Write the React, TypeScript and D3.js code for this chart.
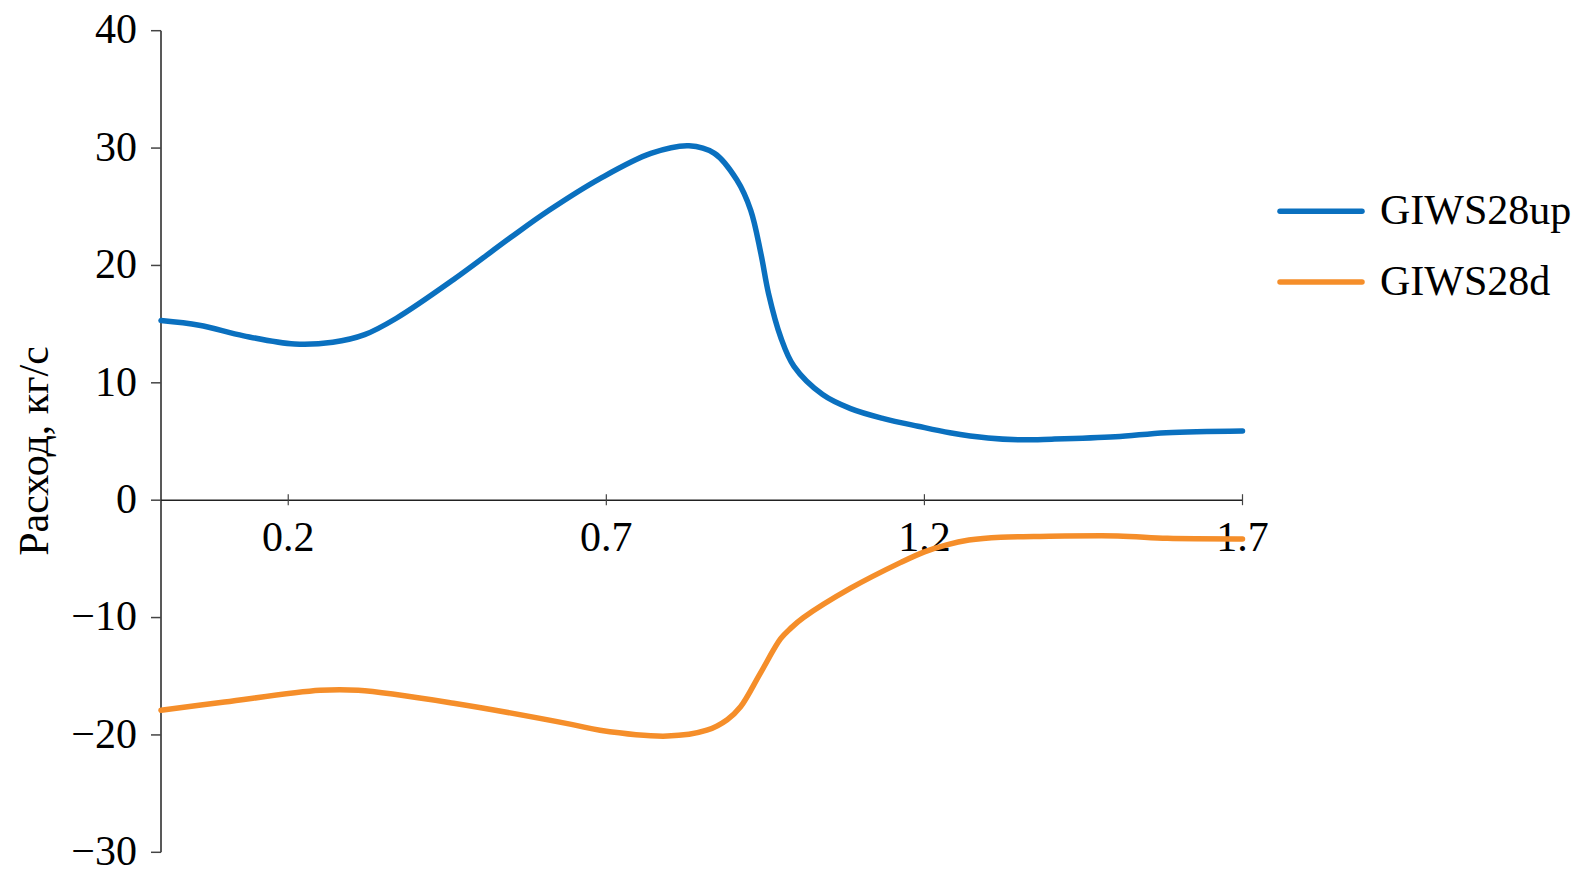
import React from "react";
import * as d3 from "d3";

const upX = [0, 0.06, 0.13, 0.21, 0.27, 0.32, 0.37, 0.46, 0.55, 0.61, 0.69, 0.77, 0.83, 0.87, 0.905, 0.927, 0.943, 0.955, 0.974, 0.995, 1.04, 1.084, 1.136, 1.19, 1.24, 1.30, 1.35, 1.40, 1.50, 1.58, 1.70];
const upY = [15.3, 14.9, 14.0, 13.3, 13.45, 14.1, 15.5, 18.8, 22.4, 24.7, 27.4, 29.55, 30.2, 29.55, 27.3, 24.7, 21.0, 17.6, 13.9, 11.4, 9.0, 7.8, 6.95, 6.3, 5.75, 5.3, 5.15, 5.2, 5.4, 5.75, 5.9];

const dX = [0, 0.10, 0.25, 0.31, 0.46, 0.645, 0.69, 0.796, 0.858, 0.89, 0.911, 0.942, 0.974, 0.99, 1.01, 1.084, 1.163, 1.2, 1.235, 1.27, 1.32, 1.372, 1.504, 1.582, 1.70];
const dY = [-17.9, -17.2, -16.2, -16.2, -17.3, -19.1, -19.6, -20.1, -19.6, -18.7, -17.6, -14.75, -11.8, -10.9, -10.0, -7.5, -5.3, -4.4, -3.8, -3.4, -3.15, -3.1, -3.05, -3.25, -3.3];

const xTicks = [0.2, 0.7, 1.2, 1.7];
const yTicks = [40, 30, 20, 10, 0, -10, -20, -30];
const seriesNames = ["GIWS28up", "GIWS28d"];
const seriesColors = ["#0A70BF", "#F58E2A"];
const yTitle = "Расход, кг/с";

const W = 1594;
const H = 879;
const FONT = "'Liberation Serif', 'Times New Roman', serif";

export default function App() {
  const x = d3.scaleLinear().domain([0, 1.7]).range([161, 1242.5]);
  const y = d3.scaleLinear().domain([-30, 40]).range([852.3, 30.7]);

  const line = d3
    .line<[number, number]>()
    .x((d) => x(d[0]))
    .y((d) => y(d[1]))
    .curve(d3.curveCatmullRom.alpha(0.5));

  const upData: [number, number][] = upX.map((v, i) => [v, upY[i]]);
  const dData: [number, number][] = dX.map((v, i) => [v, dY[i]]);
  const series = [upData, dData];

  const fmtY = (v: number) => (v < 0 ? "\u2212" + Math.abs(v) : String(v));

  return (
    <div style={{ position: "absolute", left: 0, top: 0 }}>
      <svg width={W} height={H} style={{ display: "block", background: "#fff" }}>
        <rect x={0} y={0} width={W} height={H} fill="#fff" />
        {/* y axis */}
        <line x1={x(0)} x2={x(0)} y1={y(40)} y2={y(-30)} stroke="#222" strokeWidth={1.5} />
        {yTicks.map((t) => (
          <g key={"yt" + t}>
            <line x1={x(0) - 10} x2={x(0)} y1={y(t)} y2={y(t)} stroke="#444" strokeWidth={1.5} />
            <text
              x={137}
              y={y(t) + 12.7}
              textAnchor="end"
              fontFamily={FONT}
              fontSize={42}
              fill="#000"
            >
              {fmtY(t)}
            </text>
          </g>
        ))}
        {/* x axis */}
        <line x1={x(0)} x2={x(1.7)} y1={y(0)} y2={y(0)} stroke="#222" strokeWidth={1.5} />
        {xTicks.map((t) => (
          <g key={"xt" + t}>
            <line x1={x(t)} x2={x(t)} y1={y(0) - 6} y2={y(0) + 5} stroke="#444" strokeWidth={1.2} />
            <text
              x={x(t)}
              y={551}
              textAnchor="middle"
              fontFamily={FONT}
              fontSize={42}
              fill="#000"
            >
              {String(t)}
            </text>
          </g>
        ))}
        {/* y title */}
        <text
          transform={`translate(48,451) rotate(-90)`}
          textAnchor="middle"
          fontFamily={FONT}
          fontSize={42}
          fill="#000"
        >
          {yTitle}
        </text>
        {/* series */}
        {series.map((s, i) => (
          <path
            key={"s" + i}
            d={line(s) || ""}
            fill="none"
            stroke={seriesColors[i]}
            strokeWidth={5.5}
            strokeLinecap="round"
            strokeLinejoin="round"
          />
        ))}
        {/* legend */}
        {seriesNames.map((n, i) => {
          const ly = i === 0 ? 211.3 : 282;
          return (
            <g key={"lg" + i}>
              <line
                x1={1280}
                x2={1362}
                y1={ly}
                y2={ly}
                stroke={seriesColors[i]}
                strokeWidth={5.5}
                strokeLinecap="round"
              />
              <text x={1380} y={ly + 13} fontFamily={FONT} fontSize={42} fill="#000">
                {n}
              </text>
            </g>
          );
        })}
      </svg>
    </div>
  );
}
